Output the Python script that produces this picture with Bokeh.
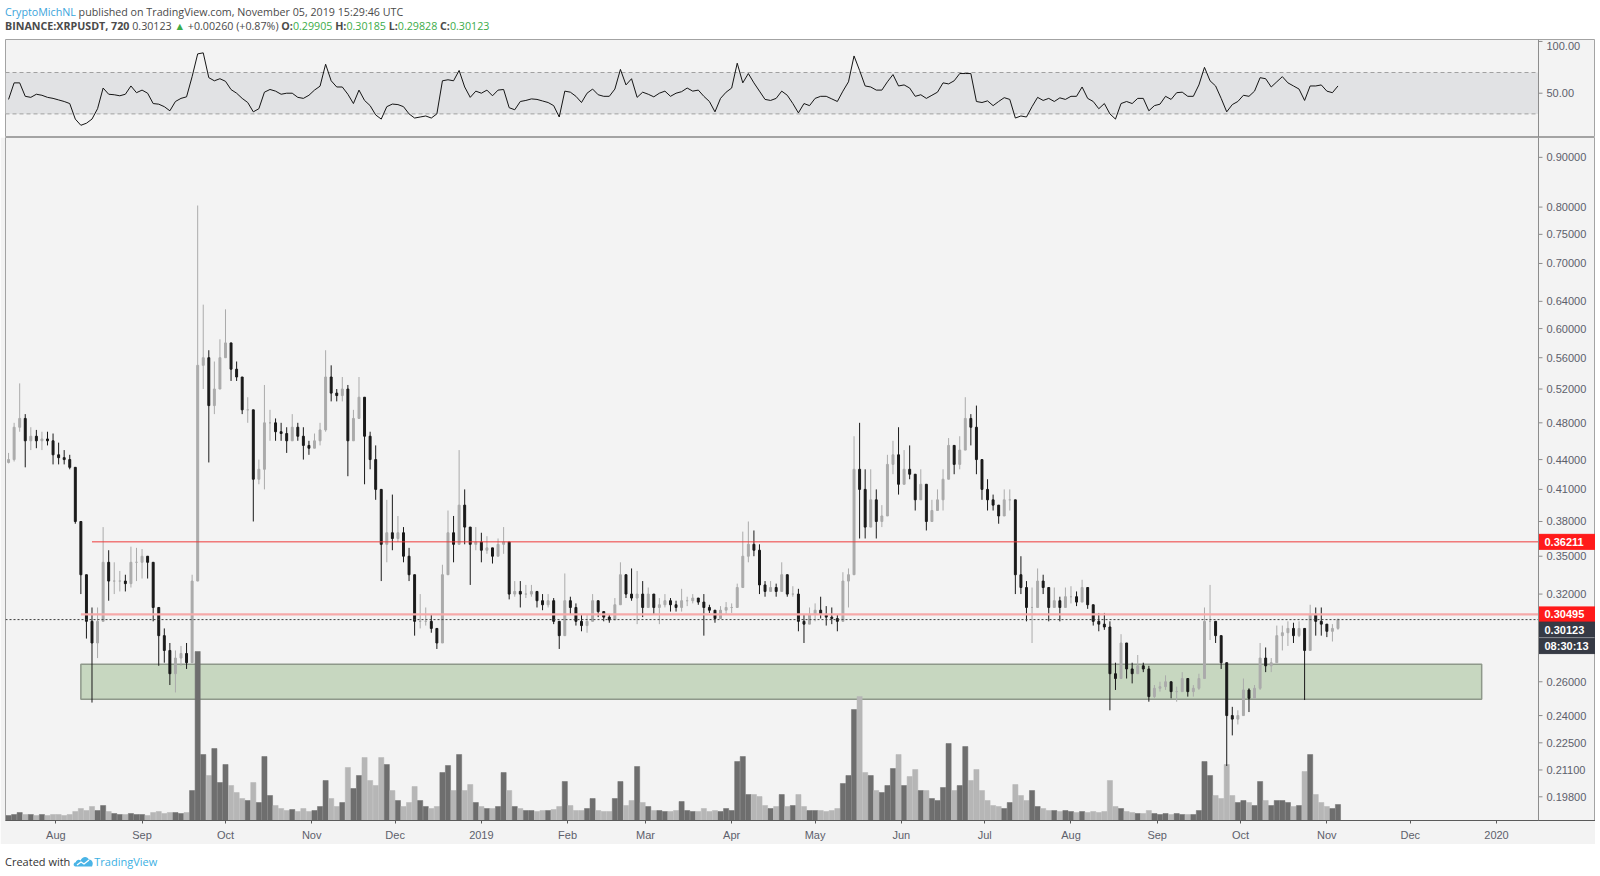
import math
import pandas as pd
from bokeh.plotting import figure
from bokeh.models import (Range1d, LinearScale, FixedTicker, Span, BoxAnnotation,
                          Div, ColumnDataSource)
from bokeh.layouts import column
from bokeh.core.properties import value
from bokeh.embed import file_html
from bokeh.resources import INLINE

# ---------------- data (2-day candles, XRP/USDT, Binance) ----------------
start_date = "2018-07-15"
first_open = 0.437

high = [
    0.447, 0.480, 0.527, 0.490, 0.475, 0.472, 0.470, 0.470, 0.468, 0.458,
    0.450, 0.445, 0.432, 0.380, 0.335, 0.310, 0.310, 0.375, 0.355, 0.345,
    0.338, 0.335, 0.358, 0.357, 0.356, 0.350, 0.345, 0.307, 0.295, 0.285,
    0.280, 0.283, 0.285, 0.335, 0.803, 0.635, 0.570, 0.555, 0.585, 0.628,
    0.580, 0.555, 0.535, 0.510, 0.480, 0.440, 0.525, 0.495, 0.485, 0.480,
    0.475, 0.490, 0.480, 0.475, 0.460, 0.468, 0.480, 0.570, 0.550, 0.520,
    0.535, 0.525, 0.495, 0.535, 0.510, 0.470, 0.455, 0.400, 0.400, 0.405,
    0.385, 0.375, 0.357, 0.325, 0.320, 0.310, 0.305, 0.293, 0.343, 0.390,
    0.385, 0.450, 0.410, 0.370, 0.375, 0.370, 0.367, 0.357, 0.365, 0.375,
    0.360, 0.330, 0.330, 0.327, 0.327, 0.322, 0.320, 0.320, 0.317, 0.300,
    0.336, 0.318, 0.313, 0.305, 0.305, 0.320, 0.315, 0.307, 0.305, 0.317,
    0.345, 0.332, 0.340, 0.338, 0.330, 0.325, 0.317, 0.317, 0.320, 0.317,
    0.315, 0.324, 0.318, 0.320, 0.317, 0.320, 0.312, 0.306, 0.311, 0.314,
    0.313, 0.328, 0.371, 0.380, 0.372, 0.360, 0.330, 0.330, 0.328, 0.345,
    0.330, 0.326, 0.324, 0.305, 0.310, 0.313, 0.318, 0.311, 0.310, 0.305,
    0.337, 0.340, 0.465, 0.480, 0.430, 0.430, 0.410, 0.395, 0.445, 0.460,
    0.475, 0.450, 0.455, 0.425, 0.430, 0.410, 0.400, 0.410, 0.430, 0.463,
    0.450, 0.465, 0.510, 0.490, 0.500, 0.435, 0.420, 0.405, 0.395, 0.410,
    0.410, 0.380, 0.350, 0.330, 0.325, 0.340, 0.335, 0.325, 0.325, 0.318,
    0.325, 0.326, 0.322, 0.331, 0.325, 0.312, 0.306, 0.306, 0.300, 0.272,
    0.291, 0.285, 0.272, 0.277, 0.272, 0.270, 0.258, 0.260, 0.264, 0.260,
    0.257, 0.266, 0.262, 0.258, 0.265, 0.310, 0.327, 0.300, 0.290, 0.272,
    0.245, 0.243, 0.262, 0.256, 0.258, 0.285, 0.282, 0.275, 0.297, 0.297,
    0.300, 0.299, 0.300, 0.295, 0.312, 0.310, 0.310, 0.298, 0.298, 0.302,
]

low = [
    0.436, 0.438, 0.470, 0.432, 0.450, 0.452, 0.450, 0.455, 0.435, 0.435,
    0.435, 0.430, 0.378, 0.320, 0.288, 0.2475, 0.275, 0.305, 0.315, 0.320,
    0.322, 0.322, 0.325, 0.330, 0.332, 0.332, 0.300, 0.270, 0.272, 0.258,
    0.2535, 0.270, 0.268, 0.275, 0.330, 0.520, 0.437, 0.490, 0.530, 0.570,
    0.530, 0.530, 0.490, 0.480, 0.380, 0.415, 0.410, 0.460, 0.460, 0.460,
    0.447, 0.460, 0.460, 0.440, 0.445, 0.452, 0.455, 0.470, 0.505, 0.505,
    0.505, 0.423, 0.465, 0.490, 0.415, 0.430, 0.400, 0.330, 0.345, 0.355,
    0.362, 0.345, 0.330, 0.290, 0.295, 0.297, 0.292, 0.281, 0.290, 0.340,
    0.345, 0.360, 0.360, 0.327, 0.355, 0.345, 0.352, 0.344, 0.352, 0.352,
    0.316, 0.318, 0.310, 0.317, 0.318, 0.310, 0.308, 0.310, 0.298, 0.281,
    0.293, 0.305, 0.297, 0.293, 0.292, 0.303, 0.303, 0.300, 0.299, 0.303,
    0.317, 0.317, 0.315, 0.298, 0.303, 0.316, 0.305, 0.298, 0.310, 0.307,
    0.307, 0.307, 0.311, 0.313, 0.312, 0.290, 0.306, 0.299, 0.304, 0.305,
    0.306, 0.310, 0.325, 0.345, 0.350, 0.320, 0.318, 0.322, 0.318, 0.325,
    0.318, 0.318, 0.293, 0.285, 0.298, 0.300, 0.302, 0.297, 0.298, 0.293,
    0.300, 0.310, 0.335, 0.365, 0.365, 0.385, 0.365, 0.375, 0.410, 0.425,
    0.405, 0.420, 0.420, 0.390, 0.400, 0.372, 0.380, 0.390, 0.390, 0.420,
    0.425, 0.430, 0.460, 0.455, 0.425, 0.400, 0.390, 0.390, 0.378, 0.390,
    0.390, 0.320, 0.320, 0.300, 0.285, 0.318, 0.320, 0.300, 0.310, 0.300,
    0.312, 0.313, 0.311, 0.319, 0.309, 0.297, 0.293, 0.294, 0.243, 0.255,
    0.262, 0.262, 0.259, 0.265, 0.266, 0.248, 0.250, 0.254, 0.255, 0.250,
    0.248, 0.254, 0.251, 0.251, 0.255, 0.262, 0.287, 0.285, 0.268, 0.213,
    0.229, 0.235, 0.240, 0.242, 0.250, 0.255, 0.266, 0.266, 0.272, 0.280,
    0.283, 0.285, 0.289, 0.249, 0.280, 0.290, 0.290, 0.289, 0.286, 0.294,
]

close = [
    0.440, 0.475, 0.485, 0.460, 0.465, 0.460, 0.462, 0.460, 0.445, 0.442,
    0.440, 0.432, 0.380, 0.335, 0.300, 0.285, 0.300, 0.345, 0.330, 0.330,
    0.330, 0.328, 0.345, 0.345, 0.350, 0.345, 0.310, 0.290, 0.280, 0.265,
    0.275, 0.278, 0.272, 0.330, 0.550, 0.560, 0.500, 0.520, 0.560, 0.580,
    0.545, 0.535, 0.495, 0.495, 0.420, 0.430, 0.480, 0.480, 0.470, 0.468,
    0.460, 0.475, 0.465, 0.455, 0.452, 0.460, 0.472, 0.535, 0.515, 0.512,
    0.520, 0.460, 0.485, 0.510, 0.465, 0.440, 0.410, 0.360, 0.370, 0.365,
    0.370, 0.350, 0.335, 0.300, 0.300, 0.300, 0.295, 0.285, 0.335, 0.370,
    0.360, 0.395, 0.375, 0.360, 0.362, 0.355, 0.357, 0.350, 0.360, 0.362,
    0.320, 0.322, 0.320, 0.320, 0.322, 0.315, 0.312, 0.315, 0.300, 0.290,
    0.315, 0.310, 0.300, 0.297, 0.300, 0.315, 0.307, 0.303, 0.301, 0.312,
    0.335, 0.320, 0.317, 0.320, 0.310, 0.320, 0.310, 0.312, 0.315, 0.312,
    0.310, 0.315, 0.315, 0.317, 0.314, 0.310, 0.308, 0.302, 0.308, 0.310,
    0.310, 0.325, 0.350, 0.360, 0.355, 0.327, 0.322, 0.325, 0.322, 0.335,
    0.320, 0.320, 0.300, 0.298, 0.305, 0.308, 0.305, 0.303, 0.302, 0.300,
    0.330, 0.335, 0.430, 0.410, 0.375, 0.400, 0.380, 0.385, 0.435, 0.445,
    0.415, 0.430, 0.425, 0.400, 0.415, 0.380, 0.390, 0.400, 0.420, 0.455,
    0.435, 0.450, 0.485, 0.475, 0.440, 0.410, 0.400, 0.395, 0.385, 0.400,
    0.400, 0.335, 0.325, 0.310, 0.310, 0.330, 0.325, 0.310, 0.315, 0.310,
    0.318, 0.318, 0.314, 0.325, 0.312, 0.300, 0.298, 0.296, 0.265, 0.262,
    0.285, 0.268, 0.265, 0.270, 0.268, 0.251, 0.256, 0.257, 0.260, 0.254,
    0.254, 0.262, 0.254, 0.256, 0.262, 0.300, 0.300, 0.290, 0.272, 0.240,
    0.238, 0.240, 0.255, 0.250, 0.256, 0.275, 0.270, 0.272, 0.290, 0.292,
    0.295, 0.290, 0.295, 0.280, 0.305, 0.300, 0.298, 0.293, 0.295, 0.30123,
]

volume = [
    5, 6, 8, 6, 6, 5, 6, 5, 6, 6,
    5, 6, 9, 12, 10, 14, 10, 15, 9, 7,
    6, 6, 7, 6, 6, 5, 8, 9, 7, 8,
    8, 7, 8, 30, 169, 66, 45, 72, 38, 56,
    35, 28, 22, 20, 38, 18, 64, 25, 15, 12,
    10, 11, 9, 12, 9, 10, 14, 40, 22, 14,
    18, 53, 32, 45, 63, 40, 35, 63, 56, 30,
    20, 14, 18, 34, 20, 14, 12, 14, 48, 55,
    30, 66, 30, 36, 18, 14, 12, 12, 14, 48,
    30, 14, 12, 10, 10, 9, 10, 10, 11, 14,
    39, 15, 10, 10, 12, 22, 10, 9, 9, 22,
    39, 15, 20, 54, 18, 14, 10, 10, 9, 9,
    10, 19, 10, 9, 9, 12, 9, 10, 9, 12,
    10, 59, 64, 26, 26, 24, 15, 12, 14, 26,
    14, 15, 26, 14, 10, 10, 10, 9, 10, 12,
    37, 45, 111, 124, 48, 45, 30, 28, 35, 52,
    66, 35, 44, 51, 30, 30, 22, 20, 33, 77,
    30, 35, 74, 40, 51, 30, 20, 15, 14, 12,
    18, 36, 25, 20, 30, 14, 12, 10, 10, 9,
    10, 9, 8, 9, 8, 9, 8, 9, 40, 14,
    12, 9, 8, 7, 7, 10, 7, 6, 7, 6,
    7, 6, 6, 6, 10, 59, 45, 25, 22, 56,
    25, 18, 20, 18, 15, 39, 20, 15, 20, 20,
    18, 14, 15, 49, 66, 26, 18, 14, 12, 16,
]

rsi = [
    44, 60, 60, 47, 46, 49, 48, 46, 45, 43.5,
    42, 40, 25, 19, 21, 25, 35, 55, 49, 48.5,
    47.5, 49, 57, 50.5, 53, 50, 40, 39.4, 37, 33,
    42, 45, 46.5, 66, 88, 89, 65, 62, 64, 61.5,
    53.5, 50, 45, 41, 32, 35, 51, 53.6, 52, 49,
    50, 50, 46, 45, 48, 53, 56.8, 78, 62, 56,
    56, 49, 40, 53, 43, 38, 29, 25, 37, 39.5,
    39, 37, 30, 26, 27, 28, 26, 30, 62, 63,
    62, 72, 56, 46, 52, 50, 53, 47.5, 53, 53.6,
    36, 34, 42, 43, 44.5, 44, 42.5, 41, 38, 27,
    52, 51, 47, 41, 50, 54, 48.5, 47, 47, 54,
    73, 58, 64, 46, 51, 49, 46.5, 50, 52, 47,
    50, 51.5, 55, 52, 53, 47, 42, 32, 45, 51,
    55, 79, 60, 69, 60, 52, 44, 43, 45, 52,
    48, 40, 31, 40, 38, 45, 47, 47, 44.5, 42,
    52, 61, 86, 72, 57, 56, 53, 53, 61, 68,
    57, 58, 55, 47, 48.5, 45, 48, 51, 60, 59,
    62, 69, 69, 69, 42, 41, 42.6, 38, 42, 45.7,
    44, 26, 28, 27, 37, 46, 43, 45, 42, 45.5,
    44, 47, 47, 56, 45, 42, 35, 40, 30, 25,
    40, 42, 40, 45, 45, 33, 38, 39.4, 47, 44,
    50.5, 51, 47, 47, 58, 75, 62, 57, 45, 32,
    39, 42, 48, 47, 52, 65, 64, 56, 61, 66,
    60, 57, 54, 43, 57, 57, 58, 52, 50.5, 57,
]

price_ticks = [0.198, 0.211, 0.225, 0.24, 0.26, 0.32, 0.35, 0.38, 0.41, 0.44,
               0.48, 0.52, 0.56, 0.60, 0.64, 0.70, 0.75, 0.80, 0.90]
price_tick_labels = ["0.19800", "0.21100", "0.22500", "0.24000", "0.26000", "0.32000",
                     "0.35000", "0.38000", "0.41000", "0.44000", "0.48000", "0.52000",
                     "0.56000", "0.60000", "0.64000", "0.70000", "0.75000", "0.80000",
                     "0.90000"]
rsi_ticks = [50, 100]
rsi_tick_labels = ["50.00", "100.00"]
month_starts = ["2018-08-01", "2018-09-01", "2018-10-01", "2018-11-01", "2018-12-01",
                "2019-01-01", "2019-02-01", "2019-03-01", "2019-04-01", "2019-05-01",
                "2019-06-01", "2019-07-01", "2019-08-01", "2019-09-01", "2019-10-01",
                "2019-11-01", "2019-12-01", "2020-01-01"]
month_labels = ["Aug", "Sep", "Oct", "Nov", "Dec", "2019", "Feb", "Mar", "Apr", "May",
                "Jun", "Jul", "Aug", "Sep", "Oct", "Nov", "Dec", "2020"]

resistance_level = 0.36211
resistance_start = "2018-08-14"
pink_level = 0.30495
pink_start = "2018-08-10"
last_price = 0.30123
countdown_text = "08:30:13"
zone_low, zone_high = 0.2495, 0.2710
zone_start, zone_end = "2018-08-10", "2019-12-26 16:00"

# ---------------- geometry ----------------
FW = 1590                 # full frame width (chart + price scale strip)
LEFT = 5
PX_PER_DAY = 2.7812
PX_PER_LN = 422.4
t0 = pd.Timestamp("2018-08-01")
x_start = t0 - pd.Timedelta(days=18.1)
x_end = x_start + pd.Timedelta(days=FW / PX_PER_DAY)
x_axis = t0 + pd.Timedelta(days=533.1)       # position of the price-scale line
def px_days(px):
    return pd.Timedelta(days=px / PX_PER_DAY)

BG = "#f3f3f3"
AXIS_FONT = "Liberation Sans"
LABEL_COLOR = "#5d606b"
AXIS_LINE = "#8c8c8c"

# ---------------- derived ----------------
dates = pd.date_range(start_date, periods=len(close), freq="2D")
opens = [first_open] + close[:-1]
up = [c >= o for o, c in zip(opens, close)]
UP_C, DN_C = "#ababab", "#1a1a1a"
VUP_C, VDN_C = "#6e6e6e", "#b6b6b6"
DAY_MS = 86400000
src = ColumnDataSource(dict(
    x=dates,
    top=[max(o, c) for o, c in zip(opens, close)],
    bottom=[min(o, c) for o, c in zip(opens, close)],
    hi=[max(h, o, c) for h, o, c in zip(high, opens, close)],
    lo=[min(l, o, c) for l, o, c in zip(low, opens, close)],
    col=[UP_C if u else DN_C for u in up],
    vcol=[VUP_C if u else VDN_C for u in up],
    vol=volume,
    rsi=rsi,
))
xr = Range1d(x_start, x_end)


def price_scale(f, ticks, labels, offsets):
    f.add_layout(Span(location=x_axis.value // 10**6, dimension="height",
                      line_color=AXIS_LINE, line_width=1))
    f.segment(x0=[x_axis] * len(ticks), y0=ticks, x1=[x_axis + px_days(4)] * len(ticks),
              y1=ticks, line_color=AXIS_LINE, line_width=1)
    f.text(x=[x_axis] * len(ticks), y=ticks, text=labels, x_offset=8, y_offset=offsets,
           text_baseline="middle", text_align="left", text_color=LABEL_COLOR,
           text_font=value(AXIS_FONT), text_font_size="11px")


# ---------------- RSI pane ----------------
r = figure(frame_width=FW, frame_height=98, x_axis_type="datetime", x_range=xr,
           y_range=Range1d(7.2, 101.9), toolbar_location=None, output_backend="svg",
           min_border_left=LEFT, min_border_right=0, min_border_top=0, min_border_bottom=0,
           background_fill_color=BG, border_fill_color="white", outline_line_color="#a3a3a3")
r.xaxis.visible = False
r.yaxis.visible = False
r.grid.visible = False
r.add_layout(BoxAnnotation(left=x_start.value // 10**6, right=x_axis.value // 10**6 - 4 * 3600000,
                           bottom=30, top=70, fill_color="#e1e2e4", fill_alpha=1.0,
                           line_color=None, level="underlay"))
r.segment(x0=[x_start, x_start], y0=[30, 70], x1=[x_axis, x_axis], y1=[30, 70],
          line_color="#a0a0a0", line_dash="4 3", line_width=1)
r.line("x", "rsi", source=src, line_color="#151515", line_width=1)
price_scale(r, rsi_ticks, rsi_tick_labels, [0, 5])

# ---------------- price pane ----------------
p = figure(frame_width=FW, frame_height=683, x_axis_type="datetime", y_axis_type="log",
           x_range=xr, y_range=Range1d(0.1872, 0.9433),
           toolbar_location=None, output_backend="svg",
           min_border_left=LEFT, min_border_right=0, min_border_top=0, min_border_bottom=24,
           background_fill_color=BG, border_fill_color=BG, outline_line_color="#a3a3a3")
p.yaxis.visible = False
p.grid.visible = False
p.extra_y_ranges = {"vol": Range1d(0, 683)}
p.extra_y_scales = {"vol": LinearScale()}

# support zone
p.quad(left=[pd.Timestamp(zone_start)], right=[pd.Timestamp(zone_end)],
       bottom=[zone_low], top=[zone_high],
       fill_color="#c7d7c0", line_color="#8e988a", line_width=1.5)

# volume
p.vbar(x="x", width=1.85 * DAY_MS, top="vol", bottom=0, source=src,
       fill_color="vcol", line_color="vcol", line_width=0.5, y_range_name="vol")

# candles
p.segment(x0="x", y0="lo", x1="x", y1="hi", source=src, line_color="col", line_width=1)
p.vbar(x="x", width=0.7 * DAY_MS, top="top", bottom="bottom", source=src,
       fill_color="col", line_color="col", line_width=1)

# horizontal levels
p.segment(x0=[pd.Timestamp(resistance_start)], y0=[resistance_level],
          x1=[x_axis], y1=[resistance_level], line_color="#ee3b3b", line_width=1)
p.segment(x0=[pd.Timestamp(pink_start)], y0=[pink_level],
          x1=[x_axis], y1=[pink_level], line_color="#f6a9a9", line_width=2.2)
p.segment(x0=[x_start], y0=[last_price], x1=[x_axis], y1=[last_price],
          line_color="#3a3a3a", line_dash="2 2", line_width=1)

price_scale(p, price_ticks, price_tick_labels, [0] * len(price_ticks))

# price boxes on the scale (stacked so they do not overlap, as on the original)
box_levels = [resistance_level, pink_level,
              last_price * math.exp(-10.0 / PX_PER_LN),
              last_price * math.exp(-26.5 / PX_PER_LN)]
box_texts = ["0.36211", "0.30495", "0.30123", countdown_text]
box_colors = ["#ff1a1a", "#ff1a1a", "#363a45", "#363a45"]
p.rect(x=[x_axis + px_days(29)] * 4, y=box_levels, width=57, height=15,
       width_units="screen", height_units="screen",
       fill_color=box_colors, line_color=box_colors)
p.text(x=[x_axis] * 4, y=box_levels, text=box_texts, x_offset=6,
       text_baseline="middle", text_align="left", text_color="white",
       text_font=value(AXIS_FONT), text_font_size="11px", text_font_style="bold")

tick_ms = [int(pd.Timestamp(s).value // 10**6) for s in month_starts]
p.xaxis.ticker = FixedTicker(ticks=tick_ms)
p.xaxis.major_label_overrides = {t: lab for t, lab in zip(tick_ms, month_labels)}
p.xaxis.axis_line_color = "#5a5a5a"
p.xaxis.axis_line_width = 1.2
p.xaxis.major_tick_line_color = "#5a5a5a"
p.xaxis.major_tick_out = 3
p.xaxis.major_tick_in = 0
p.xaxis.minor_tick_line_color = None
p.xaxis.major_label_text_color = LABEL_COLOR
p.xaxis.major_label_text_font = AXIS_FONT
p.xaxis.major_label_text_font_size = "11px"
p.xaxis.major_label_standoff = 5

# ---------------- header / footer ----------------
G = "#3cab49"
header = Div(width=FW + LEFT, height=29, text=(
    "<div style=\"font-family:'Open Sans';font-size:10.7px;line-height:14px;color:#4a4a4a;"
    "white-space:nowrap\">"
    "<span style='color:#3aa4db'>CryptoMichNL</span> published on TradingView.com, "
    "November 05, 2019 15:29:46 UTC<br>"
    "<b>BINANCE:XRPUSDT, 720</b> 0.30123 <span style='color:%s'>&#9650;</span> "
    "+0.00260 (+0.87%%) <b>O:</b><span style='color:%s'>0.29905</span> "
    "<b>H:</b><span style='color:%s'>0.30185</span> "
    "<b>L:</b><span style='color:%s'>0.29828</span> "
    "<b>C:</b><span style='color:%s'>0.30123</span></div>") % (G, G, G, G, G))

logo = ("<svg width='21' height='12' viewBox='0 0 21 12' style='vertical-align:-1px'>"
        "<path d='M2.5 11.5 C0 11.5 0 7.5 2.8 7.3 C3.2 4.5 6.2 4 7.6 5.4 "
        "C9 1.2 14.5 0.6 15.8 4.6 C19 4.6 21 8 19 11.5 Z' fill='#4ab4e6'/>"
        "<path d='M4 10 L8 7 L11 9 L16 5' stroke='white' stroke-width='1.4' fill='none'/></svg>")
footer = Div(width=FW + LEFT, height=26, text=(
    "<div style=\"font-family:'Open Sans';font-size:11px;line-height:16px;color:#333;"
    "padding-top:5px;white-space:nowrap\">Created with " + logo +
    "<span style='color:#3bb0e3'>TradingView</span></div>"))

layout = column(header, r, p, footer)
open("out.html", "w").write(file_html(layout, INLINE))
